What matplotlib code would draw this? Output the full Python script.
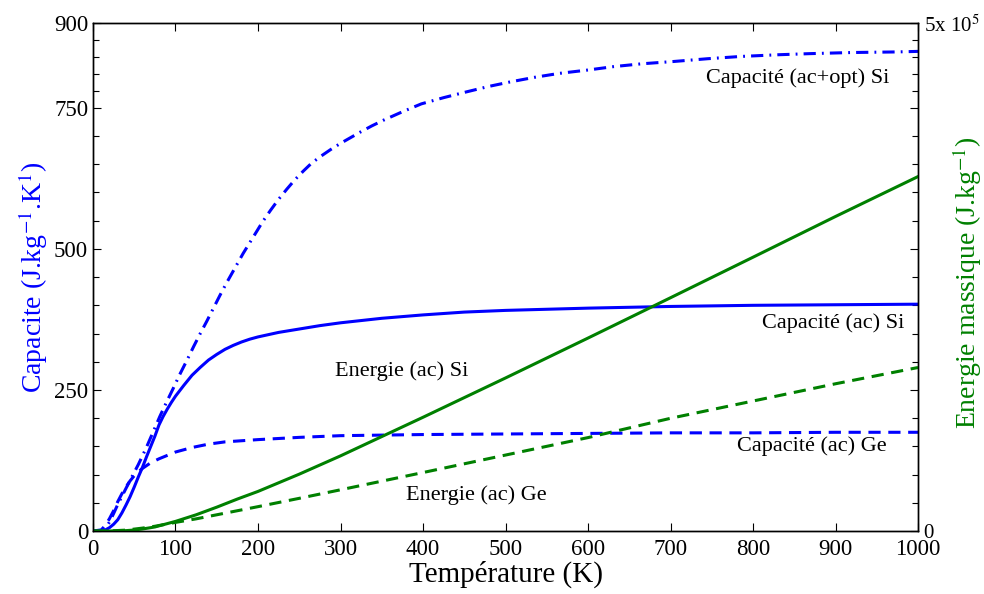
import matplotlib
matplotlib.use('Agg')
import matplotlib.pyplot as plt
from matplotlib.ticker import FixedLocator

plt.rcParams['font.family'] = ['Liberation Serif', 'DejaVu Serif']
plt.rcParams['mathtext.fontset'] = 'stix'

# Capacité (ac) Si  -- J/kg/K
t_cap_si = [0, 10, 15, 20, 25, 30, 35, 40, 45, 50, 55, 60, 65, 70, 75, 80, 85, 90, 95,
            100, 110, 120, 130, 140, 150, 160, 170, 180, 190, 200, 225, 250, 275, 300,
            350, 400, 450, 500, 600, 700, 800, 900, 1000]
cap_si = [0, 0.3, 2, 6, 12, 20, 32, 46, 61, 78, 96, 113, 132, 150, 168, 188, 203, 216,
          228, 239, 258, 276, 290, 303, 313, 322, 329, 335, 340, 344, 352, 358, 364, 369,
          377, 383, 388, 391, 395, 398, 400, 401, 402]

# Capacité (ac) Ge
t_cap_ge = [0, 10, 15, 20, 25, 30, 35, 40, 45, 50, 55, 60, 70, 80, 90, 100, 120, 140,
            160, 180, 200, 250, 300, 400, 500, 600, 700, 800, 900, 1000]
cap_ge = [0, 2, 10, 22, 36, 52, 66, 78, 89, 98, 105, 111, 121, 128, 134, 140, 148, 154,
          158, 160, 162, 166, 169, 171, 172, 173, 174, 174, 175, 175]

# Capacité (ac+opt) Si
t_cap_opt = [0, 10, 15, 20, 25, 30, 37, 45, 55, 65, 73, 81, 89, 97, 105, 114, 122, 130,
             138, 146, 154, 162, 172, 182, 190, 198, 206, 215, 225, 235, 245, 255, 265,
             276, 288, 300, 312, 324, 338, 352, 375, 398, 425, 452, 480, 506, 535, 565,
             600, 631, 665, 703, 745, 785, 830, 869, 920, 973, 1000]
cap_opt = [0, 1, 5, 16, 31, 47, 67, 90, 118, 149, 176, 203, 228, 252, 277, 303, 327, 350,
           372, 395, 418, 440, 466, 492, 511, 530, 549, 568, 588, 606, 623, 638, 652,
           664, 676, 687, 697, 707, 718, 728, 743, 757, 768, 778, 788, 796, 804, 811,
           817, 823, 828, 832, 837, 841, 844, 846, 848, 849, 850]

# Energie (ac) Si / Ge -- J/kg
t_en = [0, 20, 40, 50, 60, 75, 100, 125, 150, 175, 200, 250, 300, 350, 400, 500, 600,
        700, 800, 900, 1000]
en_si = [0, 20, 400, 1000, 2000, 4000, 9500, 16000, 23500, 31500, 39000, 56000, 74000,
         93000, 112000, 150700, 190000, 229700, 269600, 309700, 349000]
en_ge = [0, 100, 900, 1900, 2900, 4700, 8500, 12000, 16000, 20000, 24000, 32200, 40600,
         49100, 57600, 74800, 92000, 111000, 128000, 145000, 161000]

blue = '#0000ff'
green = '#008000'
lw = 2.2

fig = plt.figure(figsize=(9.84, 5.94), dpi=100)
ax = fig.add_axes([0.0945, 0.106, 0.8385, 0.855])
ax2 = ax.twinx()

ax.plot(t_cap_si, cap_si, color=blue, lw=lw)
ax.plot(t_cap_ge, cap_ge, color=blue, lw=lw, dashes=(4, 2.5))
ax.plot(t_cap_opt, cap_opt, color=blue, lw=lw, dashes=(4, 2, 0.6, 2))
ax2.plot(t_en, en_si, color=green, lw=lw)
ax2.plot(t_en, en_ge, color=green, lw=lw, dashes=(4, 2.5))

ax.set_xlim(0, 1000)
ax.set_ylim(0, 900)
ax2.set_ylim(0, 5e5)
ax.set_xticks(range(0, 1001, 100))
ax.set_yticks([0, 250, 500, 750, 900])
minor = [m for m in range(50, 750, 50) if m not in (250, 500)] + [780, 810, 840, 870]
ax.yaxis.set_minor_locator(FixedLocator(minor))
ax.tick_params(axis='both', which='both', direction='in', top=True, right=True,
               labelsize=16.5, width=0.8)
ax.tick_params(which='major', length=6)
ax.tick_params(which='minor', length=4)
ax.tick_params(axis='x', pad=6)

ax2.set_yticks([0, 5e5])
ax2.set_yticklabels(['0', r'5x 10$^{5}$'])
ax2.tick_params(axis='y', length=0, labelsize=15, pad=4)

for a in (ax, ax2):
    for s in a.spines.values():
        s.set_linewidth(1.0)

ax.set_xlabel('Température (K)', fontsize=21, labelpad=0)
ax.set_ylabel(r'Capacite (J.kg$^{-1}$.K$^{1}$)', fontsize=20, color=blue)
ax2.set_ylabel(r'Energie massique (J.kg$^{-1}$)', fontsize=20, color=green)
ax.yaxis.set_label_coords(-0.052, 0.5)
ax2.yaxis.set_label_coords(1.039, 0.49)

ax.text(965, 803, 'Capacité (ac+opt) Si', fontsize=16, ha='right', va='center')
ax.text(983, 368, 'Capacité (ac) Si', fontsize=16, ha='right', va='center')
ax.text(374, 284, 'Energie (ac) Si', fontsize=16, ha='center', va='center')
ax.text(871, 151, 'Capacité (ac) Ge', fontsize=16, ha='center', va='center')
ax.text(465, 64, 'Energie (ac) Ge', fontsize=16, ha='center', va='center')

fig.savefig('out.png', dpi=100)
